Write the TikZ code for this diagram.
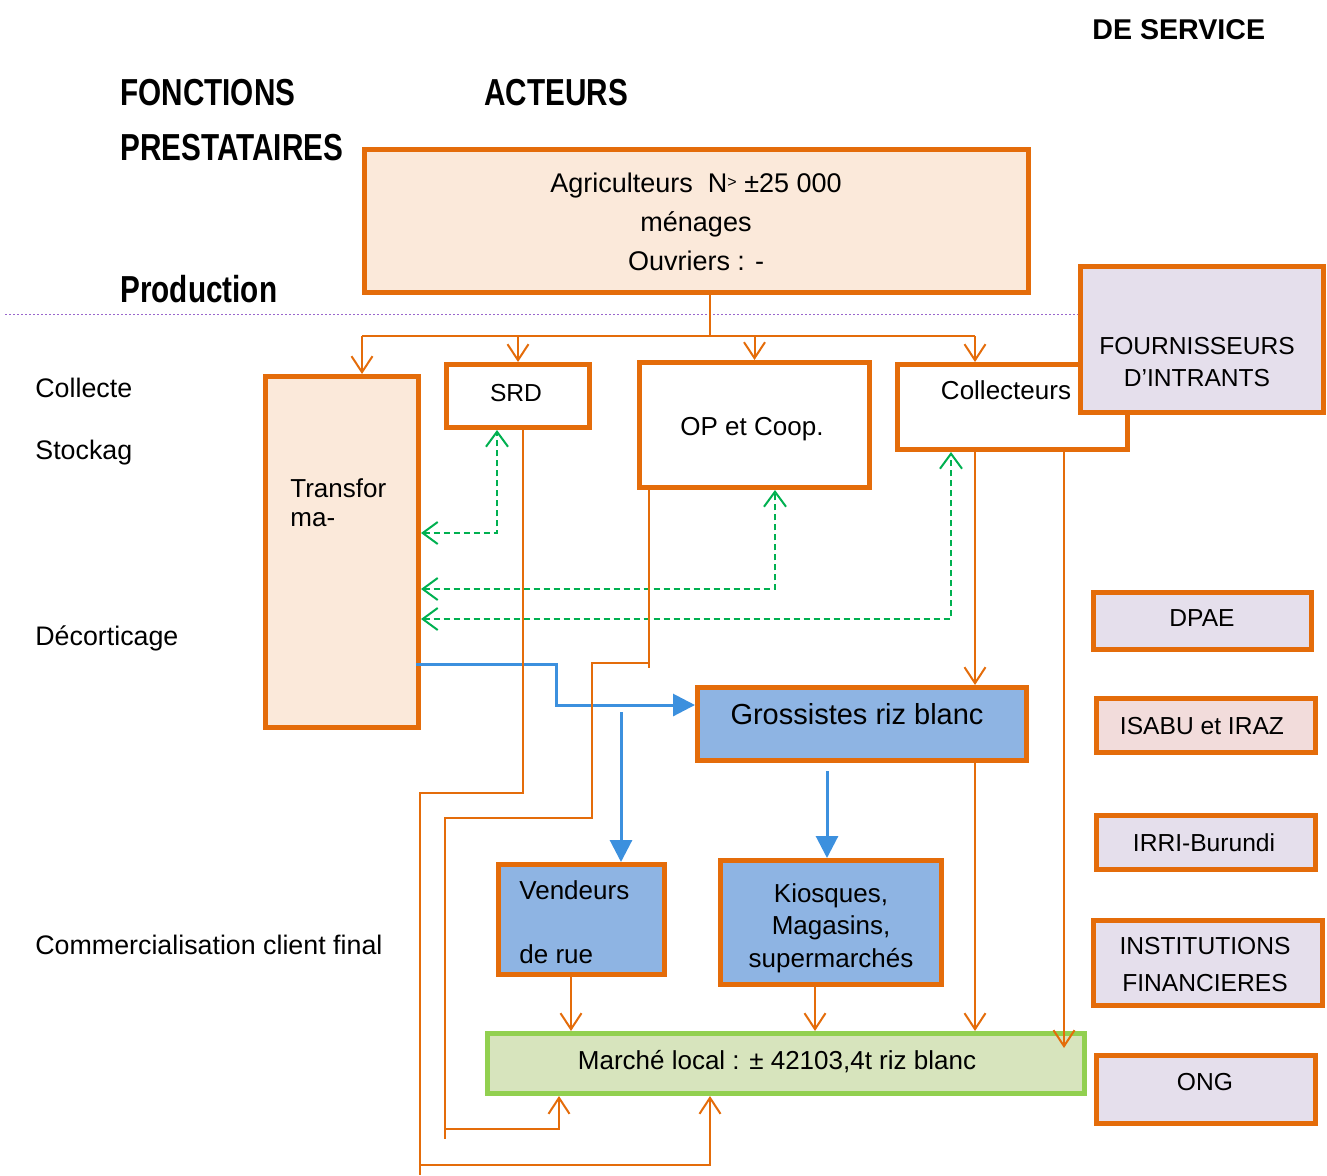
\documentclass[tikz,border=0pt]{standalone}
\usepackage{fontspec}
\setmainfont{Liberation Sans}
\newfontfamily\headfont[FakeStretch=0.79]{Liberation Sans}
\usetikzlibrary{arrows.meta}
\definecolor{orng}{HTML}{E46C0A}
\definecolor{peach}{HTML}{FBE9DA}
\definecolor{lavnd}{HTML}{E5DFEC}
\definecolor{pinkb}{HTML}{F2DCDB}
\definecolor{bluef}{HTML}{8EB4E3}
\definecolor{greenf}{HTML}{D7E4BD}
\definecolor{greenb}{HTML}{92D050}
\definecolor{blu}{HTML}{3C90DE}
\definecolor{grn}{HTML}{00B050}
\definecolor{purp}{HTML}{9966CC}

\begin{document}
\begin{tikzpicture}[x=0.5pt,y=-0.5pt]
\tikzstyle{every node}=[inner sep=0pt, rectangle]
\tikzstyle{box}=[draw=orng, line width=2.5pt]
\tikzstyle{txt}=[font=\fontsize{13}{16}\selectfont]
\tikzstyle{side}=[font=\fontsize{13.4}{16}\selectfont, anchor=base west]
\tikzstyle{small}=[font=\fontsize{12.3}{16}\selectfont]
\tikzstyle{head}=[font=\headfont\bfseries\fontsize{18.8}{22}\selectfont, anchor=base west]
\tikzstyle{oline}=[draw=orng, line width=1pt]
\tikzstyle{oarrow}=[oline, -{Straight Barb[length=8pt,width=10.5pt]}]
\tikzstyle{garrow}=[draw=grn, line width=1pt, dash pattern=on 3pt off 2pt, {Straight Barb[length=7.5pt,width=11pt]}-{Straight Barb[length=7.5pt,width=11pt]}]
\tikzstyle{barrow}=[draw=blu, line width=1.5pt, -{Triangle[length=11pt,width=11pt]}]
\useasboundingbox (0,0) rectangle (1327,1175);

\draw (1092,39) node (tserv) [font=\bfseries\fontsize{14.3}{17}\selectfont, anchor=base west] {DE SERVICE};
\draw (120,105) node (tfonc) [head] {FONCTIONS};
\draw (484,105) node (tact) [head] {ACTEURS};
\draw (120,160) node (tprest) [head] {PRESTATAIRES};
\draw (120,302) node (tprod) [head] {Production};
\draw (35,397) node (tcoll) [side] {Collecte};
\draw (35,459) node (tstock) [side] {Stockag};
\draw (35,645) node (tdecort) [side] {Décorticage};
\draw (35,954) node (tcomm) [side] {Commercialisation client final};

\draw[purp, line width=0.5pt, dash pattern=on 1pt off 1pt] (5,314) -- (1078,314);

\draw (696.5,221) node (agri) [box, fill=peach, minimum width=332pt, minimum height=71.5pt] {};
\draw (1012.5,407) node (coll) [box, fill=white, minimum width=115pt, minimum height=42.5pt] {};
\draw (1202,339.5) node (four) [box, fill=lavnd, minimum width=121.5pt, minimum height=73pt] {};
\draw (754.5,425) node (op) [box, fill=white, minimum width=115pt, minimum height=62.5pt] {};
\draw (518,396) node (srd) [box, fill=white, minimum width=71.5pt, minimum height=31.5pt] {};
\draw (342,552) node (transfo) [box, fill=peach, minimum width=76.5pt, minimum height=175.5pt] {};
\draw (862,724) node (gross) [box, fill=bluef, minimum width=164.5pt, minimum height=36.5pt] {};
\draw (581.5,919.5) node (vend) [box, fill=bluef, minimum width=83pt, minimum height=55pt] {};
\draw (831,922.5) node (kiosk) [box, fill=bluef, minimum width=110.5pt, minimum height=62pt] {};
\draw (786,1063.5) node (marche) [box, draw=greenb, fill=greenf, minimum width=298.5pt, minimum height=30pt] {};
\draw (1202.5,621) node (dpae) [box, fill=lavnd, minimum width=109pt, minimum height=28.5pt] {};
\draw (1206,725.5) node (isabu) [box, fill=pinkb, minimum width=109.5pt, minimum height=27pt] {};
\draw (1206,842.5) node (irri) [box, fill=lavnd, minimum width=109.5pt, minimum height=27pt] {};
\draw (1208,963) node (inst) [box, fill=lavnd, minimum width=114.5pt, minimum height=42.5pt] {};
\draw (1206,1089.5) node (ong) [box, fill=lavnd, minimum width=109.5pt, minimum height=34pt] {};

\draw (696,222) node (tagri) [font=\fontsize{13.5}{19.5}\selectfont, align=center] {Agriculteurs\ \ N\raisebox{0.35ex}{\fontsize{8}{8}\selectfont >} ±25 000\\ménages\\Ouvriers : -};
\draw (1197,362) node (tfour) [small, align=center] {FOURNISSEURS\\D’INTRANTS};
\draw (1006,390) node (tcollect) [txt] {Collecteurs};
\draw (752,429) node (top) [txt] {OP et Coop.};
\draw (516,393) node (tsrd) [small] {SRD};
\draw (290,503) node (ttransfo) [font=\fontsize{13}{14.5}\selectfont, align=left, anchor=west] {Transfor\\ma-};
\draw (857,714) node (tgross) [font=\fontsize{14.5}{17}\selectfont] {Grossistes riz blanc};
\draw (519,922.5) node (tvend) [txt, align=left, anchor=west] {Vendeurs\\[16pt]de rue};
\draw (831,928) node (tkiosk) [font=\fontsize{13}{16.25}\selectfont, align=center] {Kiosques,\\Magasins,\\supermarchés};
\draw (777,1062) node (tmarche) [txt] {Marché local : ± 42103,4t riz blanc};
\draw (1202,618) node (tdpae) [small] {DPAE};
\draw (1202,726) node (tisabu) [small] {ISABU et IRAZ};
\draw (1204,843) node (tirri) [small] {IRRI-Burundi};
\draw (1205,964.5) node (tinst) [font=\fontsize{12.3}{18.5}\selectfont, align=center] {INSTITUTIONS\\FINANCIERES};
\draw (1205,1082) node (tong) [small] {ONG};

\coordinate (j0) at (710,336);
\coordinate (j1) at (362,336);
\coordinate (j4) at (975,336);
\draw[oline] (agri.south -| j0) -- (j0);
\draw[oline] (j1) -- (j4);
\draw[oarrow] (j1) -- (j1 |- transfo.north);
\draw[oarrow] (srd.north |- j1) -- (srd.north);
\draw[oarrow] (op.north |- j1) -- (op.north);
\draw[oarrow] (j4) -- (j4 |- coll.north);

\coordinate (g1) at (497,533);
\coordinate (g2) at (775,589);
\coordinate (g3) at (951,619);
\draw[garrow] (transfo.east |- g1) -- (g1) -- (g1 |- srd.south);
\draw[garrow] (transfo.east |- g2) -- (g2) -- (g2 |- op.south);
\draw[garrow] (transfo.east |- g3) -- (g3) -- (g3 |- coll.south);

\coordinate (b0) at (416,664);
\coordinate (b1) at (556,664);
\coordinate (b2) at (556,705);
\coordinate (b3) at (621,712);
\coordinate (b4) at (827,771);
\draw[barrow] (b0) -- (b1) -- (b2) -- (b2 -| gross.west);
\draw[barrow] (b3) -- (b3 |- vend.north);
\draw[barrow] (b4) -- (b4 |- kiosk.north);

\coordinate (c2) at (1064,1048);
\draw[oarrow] (coll.south -| j4) -- (j4 |- gross.north);
\draw[oarrow] (gross.south -| j4) -- (j4 |- marche.north);
\draw[oarrow] (coll.south -| c2) -- (c2);

\coordinate (m1) at (571,1031);
\coordinate (m2) at (815,1031);
\draw[oarrow] (vend.south -| m1) -- (m1 |- marche.north);
\draw[oarrow] (kiosk.south -| m2) -- (m2 |- marche.north);

\coordinate (pA1) at (523,793);
\coordinate (pA2) at (420,793);
\coordinate (pA3) at (420,1165);
\coordinate (pA4) at (710,1165);
\coordinate (pA5) at (420,1175);
\draw[oarrow] (srd.south -| pA1) -- (pA1) -- (pA2) -- (pA3) -- (pA4) -- (pA4 |- marche.south);
\draw[oline] (pA3) -- (pA5);

\coordinate (pB1) at (649,663);
\coordinate (pB2) at (592,663);
\coordinate (pB3) at (592,818);
\coordinate (pB4) at (445,818);
\coordinate (pB5) at (445,1129);
\coordinate (pB6) at (559,1129);
\coordinate (pB7) at (649,668);
\coordinate (pB8) at (445,1139);
\draw[oarrow] (op.south -| pB1) -- (pB1) -- (pB2) -- (pB3) -- (pB4) -- (pB5) -- (pB6) -- (pB6 |- marche.south);
\draw[oline] (pB1) -- (pB7);
\draw[oline] (pB5) -- (pB8);
\end{tikzpicture}
\end{document}
